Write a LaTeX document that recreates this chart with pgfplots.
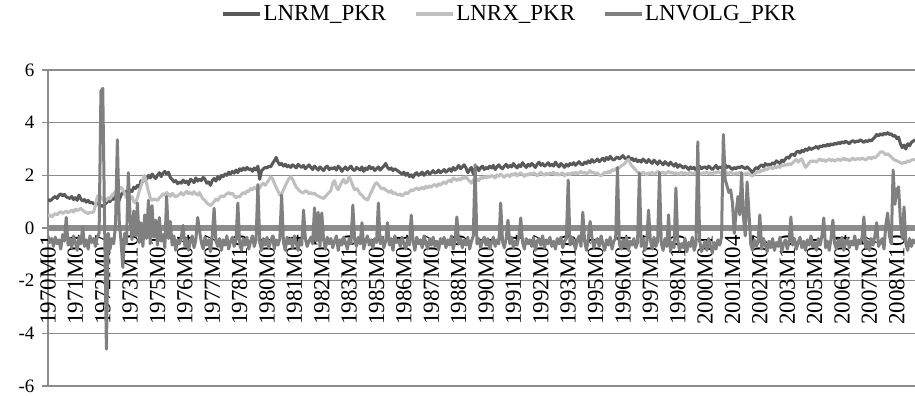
\documentclass[border=0pt]{standalone}
\usepackage{fontspec}
\setmainfont{Liberation Serif}
\usepackage{pgfplots}
\usepackage{pgfplotstable}
\pgfplotsset{compat=1.18}
\definecolor{cRM}{HTML}{595959}
\definecolor{cRX}{HTML}{BFBFBF}
\definecolor{cVG}{HTML}{808080}
\definecolor{cGrid}{HTML}{8C8C8C}

% LNRM_PKR, monthly 1970M01 ... 2009M08
\pgfplotstableread[row sep=\\,header=false]{
1.10\\1.02\\1.08\\1.15\\1.20\\1.12\\1.25\\1.30\\1.22\\1.28\\1.18\\1.15\\
1.12\\1.20\\1.08\\1.15\\1.05\\1.25\\1.10\\1.02\\1.08\\0.98\\1.05\\0.95\\
0.98\\0.92\\0.90\\0.95\\0.88\\0.85\\0.82\\0.90\\0.95\\1.05\\1.00\\1.12\\
1.08\\1.20\\1.15\\1.05\\1.25\\1.35\\1.30\\1.40\\1.25\\1.45\\1.38\\1.55\\
1.50\\1.62\\1.55\\1.80\\1.75\\1.95\\1.85\\2.00\\1.90\\2.05\\1.95\\1.88\\
2.00\\2.10\\1.95\\2.08\\2.15\\2.05\\2.12\\1.92\\1.85\\1.75\\1.80\\1.68\\
1.75\\1.70\\1.82\\1.72\\1.78\\1.65\\1.85\\1.80\\1.72\\1.90\\1.78\\1.85\\
1.80\\1.92\\1.85\\1.70\\1.75\\1.62\\1.80\\1.88\\1.78\\1.95\\1.85\\2.00\\
1.95\\2.05\\2.00\\2.12\\2.05\\2.15\\2.08\\2.20\\2.10\\2.25\\2.18\\2.28\\
2.20\\2.30\\2.22\\2.25\\2.15\\2.28\\2.20\\2.35\\1.85\\2.18\\2.25\\2.30\\
2.28\\2.35\\2.32\\2.45\\2.55\\2.68\\2.50\\2.40\\2.45\\2.35\\2.42\\2.32\\
2.38\\2.30\\2.40\\2.35\\2.28\\2.42\\2.35\\2.30\\2.38\\2.25\\2.32\\2.40\\
2.30\\2.22\\2.35\\2.28\\2.20\\2.32\\2.25\\2.18\\2.30\\2.35\\2.22\\2.28\\
2.25\\2.30\\2.20\\2.35\\2.28\\2.15\\2.25\\2.32\\2.20\\2.28\\2.35\\2.22\\
2.18\\2.30\\2.25\\2.20\\2.32\\2.15\\2.28\\2.22\\2.35\\2.25\\2.30\\2.18\\
2.25\\2.32\\2.20\\2.28\\2.35\\2.45\\2.30\\2.22\\2.28\\2.18\\2.25\\2.20\\
2.15\\2.10\\2.05\\2.12\\2.00\\2.08\\1.95\\2.02\\1.92\\2.05\\2.10\\2.00\\
2.05\\2.12\\2.00\\2.08\\2.15\\2.05\\2.10\\2.18\\2.08\\2.12\\2.20\\2.10\\
2.15\\2.22\\2.12\\2.18\\2.25\\2.15\\2.30\\2.20\\2.28\\2.38\\2.25\\2.32\\
2.40\\2.28\\2.10\\2.22\\2.30\\2.05\\2.25\\2.32\\2.18\\2.28\\2.35\\2.22\\
2.30\\2.25\\2.35\\2.28\\2.38\\2.22\\2.32\\2.40\\2.30\\2.25\\2.35\\2.42\\
2.30\\2.38\\2.32\\2.45\\2.35\\2.28\\2.40\\2.33\\2.48\\2.38\\2.30\\2.42\\
2.35\\2.45\\2.38\\2.30\\2.42\\2.50\\2.38\\2.45\\2.35\\2.40\\2.48\\2.36\\
2.42\\2.35\\2.50\\2.40\\2.32\\2.45\\2.38\\2.30\\2.42\\2.35\\2.45\\2.40\\
2.48\\2.38\\2.45\\2.52\\2.42\\2.40\\2.50\\2.45\\2.55\\2.48\\2.60\\2.50\\
2.55\\2.62\\2.52\\2.58\\2.65\\2.55\\2.68\\2.60\\2.72\\2.62\\2.58\\2.65\\
2.70\\2.62\\2.68\\2.75\\2.65\\2.60\\2.72\\2.58\\2.65\\2.55\\2.62\\2.52\\
2.58\\2.50\\2.62\\2.55\\2.48\\2.60\\2.52\\2.45\\2.58\\2.50\\2.42\\2.55\\
2.48\\2.40\\2.52\\2.45\\2.38\\2.50\\2.42\\2.35\\2.45\\2.30\\2.40\\2.35\\
2.28\\2.35\\2.30\\2.22\\2.32\\2.25\\2.30\\2.20\\2.28\\2.35\\2.25\\2.30\\
2.32\\2.25\\2.35\\2.28\\2.22\\2.30\\2.38\\2.25\\2.32\\2.28\\2.35\\2.40\\
2.30\\2.35\\2.28\\2.22\\2.30\\2.25\\2.32\\2.28\\2.35\\2.30\\2.25\\2.32\\
2.25\\2.18\\2.10\\2.22\\2.30\\2.25\\2.35\\2.40\\2.32\\2.45\\2.38\\2.42\\
2.40\\2.48\\2.42\\2.55\\2.50\\2.45\\2.58\\2.52\\2.62\\2.70\\2.65\\2.78\\
2.80\\2.75\\2.88\\2.92\\2.85\\2.95\\2.90\\3.00\\2.95\\3.05\\2.98\\3.02\\
3.05\\3.10\\3.02\\3.12\\3.08\\3.15\\3.10\\3.18\\3.12\\3.20\\3.15\\3.22\\
3.18\\3.25\\3.20\\3.28\\3.22\\3.30\\3.25\\3.20\\3.28\\3.32\\3.25\\3.30\\
3.28\\3.35\\3.30\\3.25\\3.32\\3.28\\3.35\\3.30\\3.38\\3.45\\3.55\\3.50\\
3.58\\3.52\\3.60\\3.55\\3.62\\3.55\\3.58\\3.48\\3.52\\3.40\\3.45\\3.20\\
3.05\\3.15\\3.00\\3.20\\3.12\\3.25\\3.30\\3.35\\
}\rmtab

% LNRX_PKR
\pgfplotstableread[row sep=\\,header=false]{
0.45\\0.50\\0.42\\0.48\\0.55\\0.50\\0.58\\0.62\\0.55\\0.60\\0.65\\0.58\\
0.62\\0.68\\0.60\\0.72\\0.66\\0.70\\0.75\\0.68\\0.62\\0.58\\0.55\\0.60\\
0.58\\0.62\\0.85\\1.20\\1.25\\1.15\\1.08\\1.00\\1.05\\1.15\\1.10\\1.25\\
1.30\\1.40\\1.35\\1.50\\1.55\\1.45\\1.30\\1.15\\1.05\\1.10\\1.20\\1.00\\
0.95\\1.15\\1.40\\1.60\\1.85\\2.00\\1.70\\1.40\\1.15\\1.05\\1.10\\1.08\\
1.05\\1.15\\1.20\\1.30\\1.25\\1.35\\1.28\\1.20\\1.32\\1.25\\1.18\\1.22\\
1.28\\1.35\\1.25\\1.32\\1.40\\1.30\\1.35\\1.28\\1.38\\1.30\\1.25\\1.35\\
1.20\\1.10\\1.05\\0.95\\0.90\\0.85\\0.92\\1.00\\1.10\\1.05\\1.15\\1.22\\
1.18\\1.25\\1.30\\1.35\\1.28\\1.32\\1.22\\1.15\\1.20\\1.18\\1.28\\1.35\\
1.30\\1.42\\1.38\\1.50\\1.45\\1.55\\1.48\\1.58\\1.52\\1.65\\1.70\\1.62\\
1.72\\1.82\\1.94\\1.88\\1.70\\1.55\\1.40\\1.25\\1.30\\1.45\\1.60\\1.75\\
1.88\\1.95\\1.85\\1.70\\1.55\\1.48\\1.40\\1.35\\1.33\\1.42\\1.38\\1.30\\
1.35\\1.28\\1.32\\1.25\\1.22\\1.18\\1.15\\1.12\\1.20\\1.28\\1.35\\1.42\\
1.70\\1.80\\1.55\\1.45\\1.60\\1.75\\1.85\\1.70\\1.75\\1.95\\1.80\\1.60\\
1.45\\1.50\\1.42\\1.30\\1.25\\1.15\\1.10\\1.06\\1.20\\1.35\\1.50\\1.65\\
1.72\\1.65\\1.55\\1.48\\1.52\\1.44\\1.40\\1.35\\1.42\\1.30\\1.35\\1.28\\
1.25\\1.30\\1.22\\1.28\\1.35\\1.30\\1.38\\1.45\\1.40\\1.48\\1.52\\1.45\\
1.50\\1.55\\1.48\\1.58\\1.52\\1.60\\1.55\\1.62\\1.65\\1.58\\1.68\\1.62\\
1.70\\1.75\\1.68\\1.78\\1.82\\1.75\\1.90\\1.85\\1.80\\1.88\\1.82\\1.92\\
1.88\\1.95\\1.85\\1.78\\1.70\\1.82\\1.90\\1.85\\1.80\\1.92\\1.88\\1.95\\
1.90\\1.98\\1.92\\2.00\\1.95\\1.90\\2.02\\1.96\\2.05\\1.98\\1.92\\2.00\\
2.02\\1.95\\2.05\\2.00\\2.08\\1.98\\2.05\\2.10\\2.02\\1.96\\2.05\\2.00\\
2.08\\2.02\\2.10\\2.05\\1.98\\2.06\\2.12\\2.04\\2.00\\2.08\\2.02\\2.10\\
2.05\\2.12\\2.02\\2.08\\2.00\\2.06\\2.10\\1.98\\2.04\\2.08\\2.02\\2.10\\
2.06\\2.12\\2.05\\2.10\\2.15\\2.08\\2.12\\2.05\\2.10\\2.18\\2.08\\2.12\\
2.05\\2.10\\2.02\\1.98\\2.05\\2.12\\2.08\\2.15\\2.10\\2.22\\2.18\\2.25\\
2.25\\2.30\\2.35\\2.40\\2.45\\2.55\\2.60\\2.45\\2.35\\2.28\\2.20\\2.12\\
2.10\\2.05\\2.12\\2.08\\2.02\\2.10\\2.06\\2.12\\2.05\\2.08\\2.15\\2.10\\
2.08\\2.12\\2.05\\2.10\\2.15\\2.08\\2.12\\2.06\\2.10\\2.04\\2.08\\2.12\\
2.06\\2.10\\2.04\\2.08\\2.12\\2.05\\2.10\\2.06\\2.12\\2.08\\2.04\\2.10\\
2.08\\2.12\\2.06\\2.10\\2.05\\2.12\\2.08\\2.15\\2.10\\2.06\\2.12\\2.08\\
2.10\\2.06\\2.12\\2.08\\2.04\\2.10\\2.06\\2.12\\2.08\\2.02\\2.06\\2.10\\
2.05\\2.00\\1.98\\2.05\\2.10\\2.15\\2.12\\2.20\\2.18\\2.25\\2.22\\2.28\\
2.30\\2.25\\2.32\\2.28\\2.35\\2.30\\2.40\\2.36\\2.42\\2.38\\2.45\\2.40\\
2.48\\2.55\\2.60\\2.50\\2.58\\2.62\\2.45\\2.30\\2.38\\2.48\\2.55\\2.52\\
2.55\\2.50\\2.58\\2.62\\2.55\\2.60\\2.52\\2.58\\2.62\\2.56\\2.60\\2.54\\
2.58\\2.62\\2.56\\2.60\\2.65\\2.58\\2.62\\2.55\\2.60\\2.66\\2.58\\2.62\\
2.64\\2.60\\2.66\\2.62\\2.58\\2.65\\2.68\\2.62\\2.70\\2.66\\2.72\\2.80\\
2.88\\2.90\\2.85\\2.78\\2.82\\2.75\\2.70\\2.62\\2.58\\2.55\\2.52\\2.48\\
2.45\\2.50\\2.48\\2.55\\2.52\\2.58\\2.60\\2.58\\
}\rxtab

% LNVOLG_PKR
\pgfplotstableread[row sep=\\,header=false]{
-0.30\\-0.55\\-0.40\\-0.70\\-0.35\\-0.60\\-0.45\\-0.80\\-0.25\\-0.50\\0.40\\-0.65\\
-0.40\\-0.75\\-0.30\\-0.55\\-0.85\\-0.35\\-0.60\\0.05\\-0.70\\-0.45\\-0.80\\-0.30\\
-0.55\\-0.40\\-0.70\\-0.35\\-0.20\\5.20\\5.30\\0.20\\-4.60\\-0.20\\-0.80\\-0.40\\
-0.60\\0.10\\3.35\\0.30\\-0.50\\-1.50\\-0.20\\-0.60\\2.10\\0.40\\-0.45\\0.65\\
-0.30\\0.95\\-0.55\\0.20\\-0.70\\0.50\\-0.40\\1.05\\-0.60\\0.85\\-0.35\\0.30\\
-0.65\\0.40\\-0.50\\-0.25\\-0.75\\1.20\\-0.40\\0.25\\-0.65\\-0.30\\-0.85\\-0.45\\
-0.60\\-0.35\\0.10\\-0.70\\-0.40\\-0.85\\-0.50\\-0.30\\-0.75\\-0.45\\0.40\\-0.10\\
-0.55\\-0.80\\-0.35\\-0.65\\-0.45\\-0.90\\-0.30\\0.75\\-0.50\\-0.70\\-0.40\\-0.85\\
-0.45\\-0.65\\-0.30\\-0.80\\-0.50\\-0.35\\-0.70\\-0.45\\0.95\\-0.60\\-0.85\\-0.40\\
-0.65\\-0.35\\-0.80\\-0.50\\-0.30\\-0.70\\-0.45\\1.65\\-0.55\\-0.85\\-0.40\\-0.65\\
-0.35\\-0.75\\-0.50\\-0.30\\-0.80\\-0.45\\-0.65\\-0.40\\1.25\\-0.55\\-0.85\\-0.35\\
-0.60\\-0.40\\-0.75\\-0.30\\-0.55\\-0.85\\-0.45\\-0.65\\0.68\\-0.40\\-0.70\\-0.50\\
-0.35\\-0.60\\0.76\\-0.50\\0.60\\-0.70\\0.57\\-0.45\\-0.80\\-0.35\\-0.60\\-0.40\\
-0.75\\-0.50\\-0.30\\-0.85\\-0.45\\-0.65\\-0.35\\-0.55\\-0.80\\-0.40\\-0.60\\0.87\\
-0.45\\-0.70\\-0.35\\-0.60\\0.20\\-0.80\\-0.50\\-0.30\\-0.65\\-0.45\\-0.75\\-0.40\\
-0.55\\0.95\\-0.60\\-0.35\\-0.75\\-0.50\\0.20\\-0.65\\-0.40\\-0.85\\-0.30\\-0.55\\
-0.45\\-0.70\\-0.35\\-0.60\\-0.80\\-0.40\\-0.65\\0.49\\-0.50\\-0.85\\-0.35\\-0.60\\
-0.45\\-0.75\\-0.30\\-0.55\\-0.80\\-0.40\\-0.65\\-0.35\\-0.70\\-0.50\\-0.85\\-0.40\\
-0.60\\-0.35\\-0.75\\-0.45\\-0.65\\-0.30\\-0.80\\-0.50\\0.42\\-0.60\\-0.40\\-0.75\\
-0.45\\-0.65\\-0.35\\-0.80\\-0.50\\-0.30\\2.40\\-0.60\\-0.40\\-0.75\\-0.50\\-0.35\\
-0.65\\-0.40\\-0.80\\-0.55\\-0.35\\-0.70\\-0.45\\-0.60\\0.95\\-0.50\\-0.75\\-0.40\\
0.30\\-0.60\\-0.35\\-0.75\\-0.50\\-0.65\\-0.30\\0.38\\-0.55\\-0.80\\-0.40\\-0.60\\
-0.45\\-0.70\\-0.35\\-0.85\\-0.50\\-0.40\\-0.65\\-0.30\\-0.75\\-0.45\\-0.60\\-0.35\\
-0.70\\-0.50\\-0.80\\-0.40\\-0.60\\-0.35\\-0.75\\-0.50\\-0.40\\1.82\\-0.65\\-0.35\\
-0.55\\-0.80\\-0.45\\-0.30\\-0.70\\0.60\\-0.50\\-0.85\\-0.40\\0.25\\-0.35\\-0.75\\
-0.50\\-0.40\\-0.70\\-0.30\\-0.60\\-0.85\\-0.45\\-0.65\\-0.35\\-0.80\\-0.50\\-0.40\\
2.30\\-0.60\\-0.80\\-0.45\\-0.70\\-0.35\\-0.85\\-0.50\\-0.65\\-0.40\\-0.75\\-0.55\\
2.08\\-0.70\\-0.40\\-0.85\\-0.60\\0.68\\-0.45\\-0.80\\-0.35\\-0.70\\-0.50\\2.10\\
-0.60\\-0.85\\-0.40\\-0.70\\0.50\\-0.90\\-0.55\\-0.75\\1.52\\-0.45\\-0.85\\-0.60\\
-0.75\\-0.40\\-0.90\\-0.55\\-0.70\\-0.35\\-0.85\\-0.60\\3.27\\-0.45\\-0.90\\-0.70\\
-0.50\\-0.85\\-0.40\\-0.70\\-0.95\\-0.55\\-0.80\\-0.45\\-0.65\\-0.35\\3.55\\1.85\\
1.60\\1.35\\1.45\\0.95\\-0.20\\0.60\\1.20\\0.50\\2.10\\0.40\\-0.30\\1.75\\
0.60\\-0.60\\-0.85\\-0.45\\-0.70\\-0.55\\0.50\\-0.80\\-0.40\\-0.65\\-0.90\\-0.50\\
-0.75\\-0.40\\-0.85\\-0.55\\-0.70\\-0.35\\-0.90\\-0.60\\-0.45\\-0.80\\-0.55\\0.42\\
-0.65\\-0.40\\-0.80\\-0.55\\-0.35\\-0.75\\-0.50\\-0.85\\-0.45\\-0.65\\-0.30\\-0.70\\
-0.55\\-0.85\\-0.40\\-0.65\\-0.30\\0.38\\-0.75\\-0.50\\-0.85\\-0.40\\0.30\\-0.60\\
-0.80\\-0.45\\-0.70\\-0.35\\-0.85\\-0.55\\-0.40\\-0.75\\-0.50\\-0.65\\-0.30\\-0.80\\
-0.45\\-0.60\\-0.35\\0.42\\-0.75\\-0.50\\-0.85\\-0.40\\-0.65\\-0.30\\0.20\\-0.70\\
-0.55\\-0.40\\-0.80\\0.10\\0.57\\-0.30\\-0.60\\2.20\\0.90\\1.44\\1.56\\0.30\\
-0.40\\0.80\\-0.60\\-0.85\\-0.40\\-0.70\\-0.45\\-0.60\\
}\vgtab

\begin{document}
\begin{tikzpicture}
\begin{axis}[
  scale only axis, width=867bp, height=316bp,
  xmin=0, xmax=475, ymin=-6, ymax=6,
  axis x line*=middle, axis y line*=left,
  x axis line style={line width=6bp, color=cGrid, -},
  y axis line style={line width=1.5bp, color=cGrid, -},
  ytick={-6,-4,...,6}, yticklabels={-6,-4,-2,0,2,4,6},
  ymajorgrids, grid style={line width=1.3bp, color=cGrid},
  ytick style={line width=1.3bp, color=cGrid},
  tick align=outside, major tick length=6bp,
  xtick={0,15,...,465},
  xticklabels={1970M01,1971M04,1972M07,1973M10,1975M01,1976M04,1977M07,1978M10,1980M01,1981M04,1982M07,1983M10,1985M01,1986M04,1987M07,1988M10,1990M01,1991M04,1992M07,1993M10,1995M01,1996M04,1997M07,1998M10,2000M01,2001M04,2002M07,2003M10,2005M01,2006M04,2007M07,2008M10},
  xtick style={draw=none},
  xticklabel style={rotate=90, anchor=east, font=\fontsize{23bp}{23bp}\selectfont, inner sep=1bp},
  yticklabel style={font=\fontsize{19bp}{19bp}\selectfont, xshift=-4bp},
  hide obscured x ticks=false, hide obscured y ticks=false,
  legend style={draw=none, fill=none, at={(0.532,1.177)}, anchor=center,
    legend columns=3, font=\fontsize{23bp}{23bp}\selectfont,
    nodes={inner sep=1.5bp},
    /tikz/every even column/.append style={column sep=26bp}},
  legend image code/.code={\draw[#1, line width=4bp] (0bp,0bp) -- (37bp,0bp);},
]
\addplot[cRM, line width=3bp, line join=round] table[x expr=\coordindex, y index=0] {\rmtab};
\addlegendentry{LNRM\_PKR}
\addplot[cRX, line width=3bp, line join=round] table[x expr=\coordindex, y index=0] {\rxtab};
\addlegendentry{LNRX\_PKR}
\addplot[cVG, line width=3bp, line join=round] table[x expr=\coordindex, y index=0] {\vgtab};
\addlegendentry{LNVOLG\_PKR}
\end{axis}
\pgfresetboundingbox
\path ([shift={(-48bp,-10bp)}]current axis.south west) rectangle ([shift={(0bp,70bp)}]current axis.north east);
\end{tikzpicture}
\end{document}
